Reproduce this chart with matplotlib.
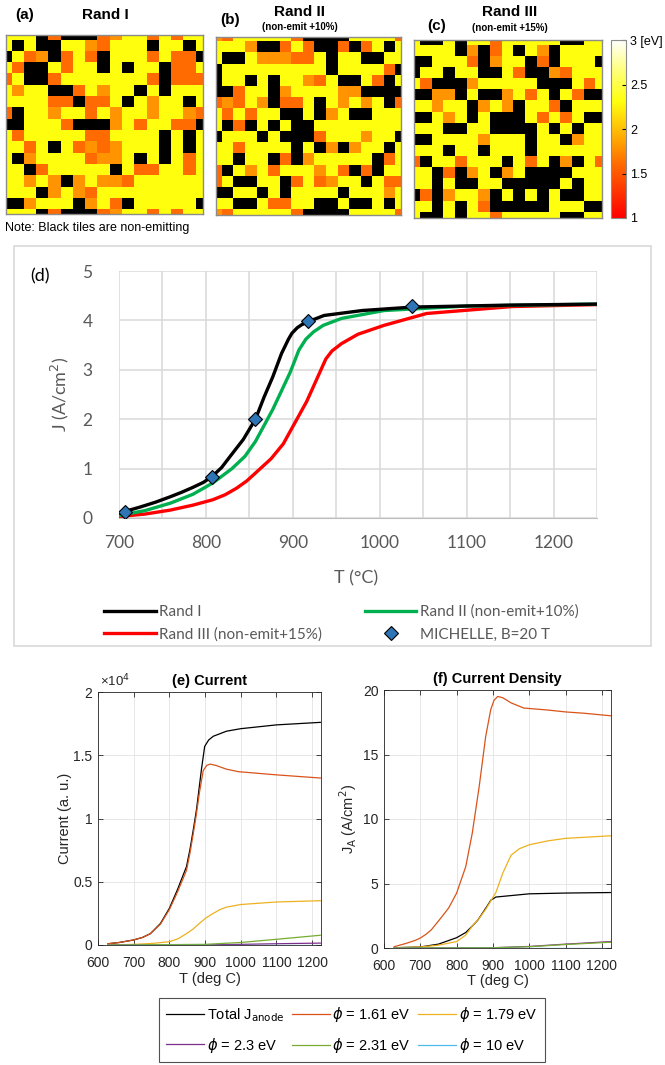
import numpy as np
import matplotlib
matplotlib.use("Agg")
import matplotlib.pyplot as plt
from matplotlib.colors import LinearSegmentedColormap
from matplotlib.patches import Rectangle

# ===== Tile maps (K = non-emitting, R = 1.61 eV, O = 1.79 eV, Y = 2.31 eV) =====
rand1_rows = [
    "YYYKRKKKROYYRYRYY", "YKYKKYYORYYYKYYKY", "KYROKRYRKYYYRYRRK", "YRKKYRYYKYKYYKRRY",
    "RYKKRYYYYYYYRKRRR", "YOYYKKRYOYYKYKYYY", "YYYYRRKRRYKYOYYKY", "RKYYOYYRYOYYOYYOR",
    "KKYYYRKKKOYRYYRRK", "YRYYYYYRRYYYYKYKY", "YYRYKYROROYYYKYKY", "YKOYYYYROOYKYKYRY",
    "YYKRYYYYYKYRRYYRY", "YYOYOKOYOORYYYYYY", "YYYKOYORYYYYYYYYY", "KKOYYYKOYRKYYYYYK",
    "YYYKRKKKROYYRYRYY",
]
rand2_rows = [
    "ORYYYYYRKKKKYYYYR", "YYYOKKRYRKKRKRYKY", "YKKYOOORRYKYYKKYY", "KYYYYYYYYYKYYYYRK",
    "KYYKYKYYORYKKYRKY", "KKRYYKOYYYYOOKKKK", "RORYOKRRYKYOYOYKR", "YRYRYYKKYKOYKKYYY",
    "YKRKYKYKKYYYYYYYY", "KYYYKYKKKRYYYOYYK", "YYRYYYYKYKOKOYYKY", "YYKYYKRKOYYYYYKRY",
    "RKYOYRYYYOYRKRKYY", "RYKKYYKRYROYYKYRR", "KKYYKYKYYYYKYYYOY", "YYKKYRRYYKKYKKYKY",
    "ORYYYYYRKKKKYYYYR",
]
rand3_rows = [
    "YKKYKYYRYYYYYKKYY", "YYYYKOKRYKYOKYYYY", "KKYYYRKOYYKRKYYYK", "KYYKYYKKYRKKORYYY",
    "YRKKKOYYYYYKKKYRY", "KKOOKYKKOYRYKYRKK", "YYOYYKOYOKYYRKYYY", "KKYOYKYKKKYRYRYKK",
    "YYYKKYYKKKKYKYKYY", "KKYYYYOYYYKYYKOYY", "YYYKYYKYYYKYYYYYY", "RKYYRYYYKYRYKOKYR",
    "YYKRKOYKOYKKKKYYY", "YYKYKKYYKKKKKYKYY", "KRKOYYOKYKYKYKKYY", "YYKYKYRKKKKKYYYKK",
    "YKKYKYYRYYYYYKKYY",
]
tile_value = {"K": np.nan, "R": 1.61, "O": 1.79, "Y": 2.31}

# ===== (d) J vs T =====
t_rand1 = [700, 724, 742, 759, 772, 785, 797, 807, 818, 828, 843, 857, 867, 877, 887, 895, 899, 905, 910, 917, 936, 980, 1038, 1150, 1250]
j_rand1 = [0.10, 0.22, 0.32, 0.43, 0.52, 0.62, 0.72, 0.84, 1.02, 1.25, 1.59, 2.00, 2.45, 2.86, 3.33, 3.62, 3.74, 3.85, 3.91, 3.97, 4.10, 4.20, 4.27, 4.31, 4.33]
t_rand2 = [700, 730, 759, 785, 808, 830, 845, 857, 877, 897, 907, 915, 924, 935, 956, 1005, 1100, 1250]
j_rand2 = [0.05, 0.15, 0.30, 0.48, 0.71, 1.00, 1.25, 1.55, 2.20, 2.95, 3.40, 3.62, 3.77, 3.90, 4.04, 4.20, 4.29, 4.33]
t_rand3 = [700, 730, 759, 785, 808, 822, 835, 847, 857, 875, 889, 916, 938, 945, 956, 975, 1005, 1054, 1152, 1250]
j_rand3 = [0.03, 0.08, 0.16, 0.26, 0.37, 0.47, 0.60, 0.75, 0.91, 1.20, 1.50, 2.36, 3.22, 3.38, 3.53, 3.72, 3.90, 4.14, 4.28, 4.32]
t_michelle = [707, 807, 857, 917, 1037]
j_michelle = [0.12, 0.84, 2.00, 3.99, 4.29]

# ===== (e) Current =====
te_total = [628, 660, 700, 725, 747, 775, 800, 823, 848, 858, 867, 876, 890, 899, 910, 923, 960, 1000, 1100, 1223]
ie_total = [100, 200, 400, 600, 900, 1700, 2900, 4400, 6200, 7600, 9100, 10700, 13900, 15700, 16200, 16500, 16900, 17100, 17400, 17600]
te_161 = [628, 660, 700, 725, 747, 775, 800, 823, 848, 858, 867, 876, 884, 895, 905, 914, 930, 960, 994, 1100, 1223]
ie_161 = [100, 200, 400, 600, 900, 1650, 2800, 4200, 5900, 7300, 8800, 10400, 12000, 13800, 14200, 14300, 14200, 13900, 13700, 13450, 13200]
te_179 = [628, 700, 750, 800, 825, 848, 866, 884, 903, 923, 942, 961, 1000, 1100, 1223]
ie_179 = [0, 50, 120, 260, 500, 900, 1250, 1700, 2150, 2500, 2800, 3000, 3200, 3400, 3500]
te_small = [628, 900, 1000, 1100, 1223]
ie_230 = [0, 10, 50, 100, 150]
ie_231 = [0, 50, 200, 450, 770]
ie_10 = [0, 0, 0, 0, 0]

# ===== (f) Current density =====
tf_total = [628, 700, 750, 800, 825, 843, 858, 871, 884, 894, 908, 1000, 1100, 1225]
jf_total = [0.02, 0.08, 0.30, 0.80, 1.20, 1.70, 2.15, 2.70, 3.25, 3.70, 3.95, 4.20, 4.26, 4.30]
tf_161 = [628, 660, 685, 700, 715, 730, 753, 778, 800, 825, 843, 862, 880, 894, 903, 913, 927, 950, 985, 1050, 1100, 1150, 1225]
jf_161 = [0.10, 0.35, 0.58, 0.77, 1.05, 1.40, 2.20, 3.10, 4.26, 6.30, 8.90, 12.5, 16.4, 18.5, 19.2, 19.5, 19.4, 19.0, 18.6, 18.45, 18.3, 18.2, 18.0]
tf_179 = [628, 700, 750, 800, 825, 843, 862, 880, 908, 927, 950, 973, 1000, 1050, 1100, 1225]
jf_179 = [0.02, 0.08, 0.22, 0.50, 1.00, 1.70, 2.30, 3.00, 4.30, 5.80, 7.20, 7.70, 8.00, 8.30, 8.50, 8.70]
tf_small = [628, 900, 1000, 1100, 1225]
jf_230 = [0, 0.02, 0.12, 0.30, 0.50]
jf_231 = [0, 0.02, 0.10, 0.27, 0.45]
jf_10 = [0, 0, 0, 0, 0]

phi_labels = ["Total J$_\\mathrm{anode}$", "$\\phi$ = 1.61 eV", "$\\phi$ = 1.79 eV",
              "$\\phi$ = 2.3 eV", "$\\phi$ = 2.31 eV", "$\\phi$ = 10 eV"]
phi_colors = ["black", "#D95319", "#EDB120", "#7E2F8E", "#77AC30", "#4DBEEE"]

# ===== Figure =====
W, H = 665, 1065
plt.rcParams["font.family"] = ["Liberation Sans", "DejaVu Sans"]
fig = plt.figure(figsize=(W / 100, H / 100), dpi=100)


def box(x0, y0, x1, y1):
    return [x0 / W, 1 - y1 / H, (x1 - x0) / W, (y1 - y0) / H]


cmap = LinearSegmentedColormap.from_list(
    "ev", [(0, (1, 0, 0)), (0.305, (1, 0.42, 0)), (0.395, (1, 0.58, 0)),
           (0.655, (1, 1, 0.05)), (0.82, (1, 1, 0.45)), (1, (1, 1, 1))])
cmap.set_bad("black")


def tile_map(rect, rows, xlim, ylim):
    ax = fig.add_axes(rect)
    grid = np.array([[tile_value[c] for c in r] for r in rows])
    im = ax.imshow(grid, cmap=cmap, vmin=1, vmax=3, aspect="auto", interpolation="nearest")
    ax.set_xlim(*xlim)
    ax.set_ylim(*ylim)
    ax.set_xticks([])
    ax.set_yticks([])
    for s in ax.spines.values():
        s.set_color("#8c8c8c")
        s.set_linewidth(1.0)
    return im


tile_map(box(6, 35, 203, 214), rand1_rows, (0.04, 16.1), (15.9, 0.1))
tile_map(box(216, 37, 401, 215), rand2_rows, (0.0, 16.07), (16.0, 0.13))
im = tile_map(box(414, 40, 602, 218), rand3_rows, (-0.01, 16.07), (16.07, 0.07))

fig.text(25 / W, 1 - 15 / H, "(a)", fontsize=11, fontweight="bold", ha="center", va="center")
fig.text(105 / W, 1 - 15 / H, "Rand I", fontsize=11, fontweight="bold", ha="center", va="center")
fig.text(230 / W, 1 - 20 / H, "(b)", fontsize=11, fontweight="bold", ha="center", va="center")
fig.text(300 / W, 1 - 12 / H, "Rand II", fontsize=11, fontweight="bold", ha="center", va="center")
fig.text(300 / W, 1 - 27 / H, "(non-emit +10%)", fontsize=7, fontweight="bold", ha="center", va="center")
fig.text(437 / W, 1 - 26 / H, "(c)", fontsize=11, fontweight="bold", ha="center", va="center")
fig.text(510 / W, 1 - 12 / H, "Rand III", fontsize=11, fontweight="bold", ha="center", va="center")
fig.text(510 / W, 1 - 28 / H, "(non-emit +15%)", fontsize=7, fontweight="bold", ha="center", va="center")
fig.text(5 / W, 1 - 228 / H, "Note: Black tiles are non-emitting", fontsize=9, ha="left", va="center")

cax = fig.add_axes(box(611, 40, 626, 218))
cb = fig.colorbar(im, cax=cax, ticks=[1, 1.5, 2, 2.5, 3])
cb.ax.set_yticklabels(["1", "1.5", "2", "2.5", "3 [eV]"])
cb.ax.tick_params(labelsize=9, length=3, direction="in", pad=3)
cb.outline.set_edgecolor("#8c8c8c")

# ===== (d) Excel-style chart =====
fig.add_artist(Rectangle((14 / W, 1 - 646 / H), 637 / W, 400 / H, transform=fig.transFigure,
                         fill=False, edgecolor="#D9D9D9", lw=1.2))
axd = fig.add_axes(box(119, 271, 597, 518))
hI, = axd.plot(t_rand1, j_rand1, color="black", lw=2.4, zorder=4)
hII, = axd.plot(t_rand2, j_rand2, color="#00B050", lw=2.4, zorder=3)
hIII, = axd.plot(t_rand3, j_rand3, color="#FF0000", lw=2.4, zorder=2)
hM, = axd.plot(t_michelle, j_michelle, ls="none", marker="D", ms=7, mfc="#2E75B6",
               mec="black", mew=0.8, zorder=5)
axd.set_xlim(700, 1250)
axd.set_ylim(0, 5)
axd.set_xticks(range(700, 1201, 100))
axd.set_xticks(range(750, 1251, 100), minor=True)
axd.set_yticks(range(0, 6))
axd.grid(True, which="both", color="#D9D9D9", lw=1.1)
axd.set_axisbelow(True)
for k in ["top", "left", "right"]:
    axd.spines[k].set_visible(False)
axd.spines["bottom"].set_color("#BFBFBF")
axd.tick_params(which="both", length=0, labelsize=12.5, colors="#595959", labelfontfamily="Lato")
axd.tick_params(axis="x", pad=12)
axd.tick_params(axis="y", pad=19)
fig.text(40 / W, 1 - 276 / H, "(d)", fontsize=13, color="black", family="Lato", ha="center", va="center")
fig.text(60 / W, 1 - 394 / H, "J (A/cm$^2$)", fontsize=13, color="#595959", family="Lato",
         rotation=90, ha="center", va="center")
fig.text(356 / W, 1 - 578 / H, "T (°C)", fontsize=13, color="#595959", family="Lato", ha="center", va="center")
fig.legend([hI, hIII, hII, hM],
           ["Rand I", "Rand III (non-emit+15%)", "Rand II (non-emit+10%)", "MICHELLE, B=20 T"],
           loc="upper left", bbox_to_anchor=(90 / W, 1 - 591 / H), ncol=2, frameon=False,
           prop={"family": "Lato", "size": 11}, labelcolor="#595959", handlelength=3.4,
           columnspacing=2.8, handletextpad=0.2, labelspacing=0.55, numpoints=1)

# ===== (e) and (f) MATLAB-style =====
def matlab_axes(rect):
    ax = fig.add_axes(rect)
    ax.grid(True, color="#E3E3E3", lw=0.6)
    ax.set_axisbelow(True)
    ax.tick_params(direction="in", length=3.5, width=0.6, top=True, right=True,
                   labelsize=10, colors="#262626", pad=4)
    ax.tick_params(axis="x", pad=8)
    for s in ax.spines.values():
        s.set_linewidth(0.6)
        s.set_color("#262626")
    ax.set_xlim(600, 1225)
    ax.set_xticks(range(600, 1201, 100))
    return ax


axe = matlab_axes(box(98, 692, 321, 945))
hs = []
for t, v, c in [(te_total, ie_total, phi_colors[0]), (te_161, ie_161, phi_colors[1]),
                (te_179, ie_179, phi_colors[2]), (te_small, ie_230, phi_colors[3]),
                (te_small, ie_231, phi_colors[4]), (te_small, ie_10, phi_colors[5])]:
    h, = axe.plot(t, v, color=c, lw=0.9)
    hs.append(h)
axe.set_ylim(0, 20000)
axe.set_yticks([0, 5000, 10000, 15000, 20000])
axe.set_yticklabels(["0", "0.5", "1", "1.5", "2"])
axe.text(0.01, 1.012, "×10$^4$", transform=axe.transAxes, fontsize=9.5, color="#262626", va="bottom")
axe.set_title("(e) Current", fontsize=10.5, fontweight="bold", pad=5)
axe.set_ylabel("Current (a. u.)", fontsize=10.5, color="#262626", labelpad=1)
axe.set_xlabel("T (deg C)", fontsize=10.5, color="#262626", labelpad=1)

axf = matlab_axes(box(384, 690, 611, 948))
for t, v, c in [(tf_total, jf_total, phi_colors[0]), (tf_161, jf_161, phi_colors[1]),
                (tf_179, jf_179, phi_colors[2]), (tf_small, jf_230, phi_colors[3]),
                (tf_small, jf_231, phi_colors[4]), (tf_small, jf_10, phi_colors[5])]:
    axf.plot(t, v, color=c, lw=0.9)
axf.set_ylim(0, 20)
axf.set_yticks([0, 5, 10, 15, 20])
axf.set_title("(f) Current Density", fontsize=10.5, fontweight="bold", pad=5)
axf.set_ylabel("J$_\\mathrm{A}$ (A/cm$^2$)", fontsize=10.5, color="#262626", labelpad=3)
axf.set_xlabel("T (deg C)", fontsize=10.5, color="#262626", labelpad=1)

order = [0, 3, 1, 4, 2, 5]
leg = fig.legend([hs[i] for i in order], [phi_labels[i] for i in order], loc="center",
                 bbox_to_anchor=(352 / W, 1 - 1030 / H), ncol=3, fontsize=10.5, frameon=True,
                 fancybox=False, edgecolor="#262626", handlelength=2.6, handletextpad=0.2,
                 columnspacing=0.5, labelspacing=0.8, borderpad=0.5)
leg.get_frame().set_linewidth(0.8)

fig.savefig("out.png", dpi=100)
